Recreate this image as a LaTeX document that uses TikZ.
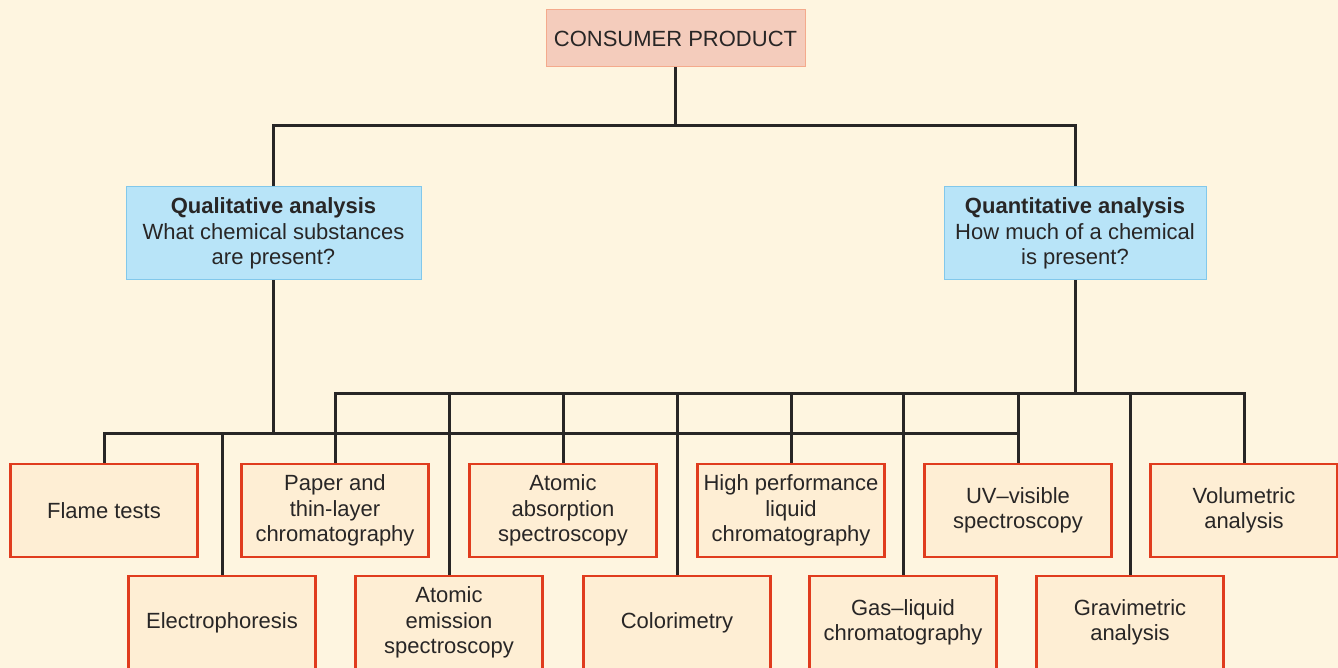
\documentclass[tikz,border=0pt]{standalone}
\usepackage{fontspec}
\setmainfont{Liberation Sans}
\usepackage{tikz}
\usetikzlibrary{calc,positioning}

\definecolor{paper}{RGB}{254,245,224}
\definecolor{boxfill}{RGB}{254,238,212}
\definecolor{boxline}{RGB}{224,60,30}
\definecolor{bluefill}{RGB}{184,228,248}
\definecolor{blueline}{RGB}{130,200,235}
\definecolor{pinkfill}{RGB}{244,204,188}
\definecolor{pinkline}{RGB}{244,170,140}
\definecolor{ink}{RGB}{40,38,38}

\begin{document}
\begin{tikzpicture}[x=0.5pt,y=-0.5pt,
		every node/.style={font=\fontsize{11}{12.75}\selectfont, text=ink, align=center, inner sep=0pt},
		method/.style={draw=boxline, line width=1.4pt, fill=boxfill, minimum width=93.5pt, minimum height=46.5pt},
		branch/.style={draw=blueline, line width=0.5pt, fill=bluefill, minimum height=46.5pt},
		link/.style={line width=1.5pt, draw=ink}]
	
	\useasboundingbox (0,0) rectangle (1338,668);
	\fill[paper] (0,0) rectangle (1338,668);
	
	% bus levels
	\coordinate (topbus) at (675.5,126);
	\coordinate (qnbus) at (0,393);
	\coordinate (qlbus) at (0,433);
	
	\node[draw=pinkline, fill=pinkfill, line width=0.5pt, minimum width=129.5pt, minimum height=28.5pt] (product) at (675.5,38.5) {CONSUMER PRODUCT};
	\node[branch, minimum width=147.5pt] (qual) at (273.5,233.5) {\textbf{Qualitative analysis}\\What chemical substances\\are present?};
	\node[branch, minimum width=131pt] (quant) at (1075,233.5) {\textbf{Quantitative analysis}\\How much of a chemical\\is present?};
	
	% upper row of methods
	\node[method] (flame) at (104,510.5) {Flame tests};
	\node[method] (paperchrom) at (335,510.5) {Paper and\\thin-layer\\chromatography};
	\node[method] (aas) at (563,510.5) {Atomic\\absorption\\spectroscopy};
	\node[method] (hplc) at (791,510.5) {High performance\\liquid\\chromatography};
	\node[method] (uvvis) at (1018,510.5) {UV--visible\\spectroscopy};
	\node[method] (vol) at (1244,510.5) {Volumetric\\analysis};
	
	% lower row of methods
	\node[method] (electro) at (222,622.5) {Electrophoresis};
	\node[method] (aes) at (449,622.5) {Atomic\\emission\\spectroscopy};
	\node[method] (color) at (677,622.5) {Colorimetry};
	\node[method] (glc) at (903,622.5) {Gas--liquid\\chromatography};
	\node[method] (grav) at (1130,622.5) {Gravimetric\\analysis};
	
	\draw[link] (product.south) -- (topbus) -| (qual.north);
	\draw[link] (topbus) -| (quant.north);
	
	\foreach \m in {flame,electro,paperchrom,aes,aas,color,hplc,glc,uvvis}{
		\draw[link] (qual.south) |- (\m.north |- qlbus) -- (\m.north);
	}
	\foreach \m in {paperchrom,aes,aas,color,hplc,glc,uvvis,grav,vol}{
		\draw[link] (quant.south) |- (\m.north |- qnbus) -- (\m.north);
	}
	
\end{tikzpicture}
\end{document}
